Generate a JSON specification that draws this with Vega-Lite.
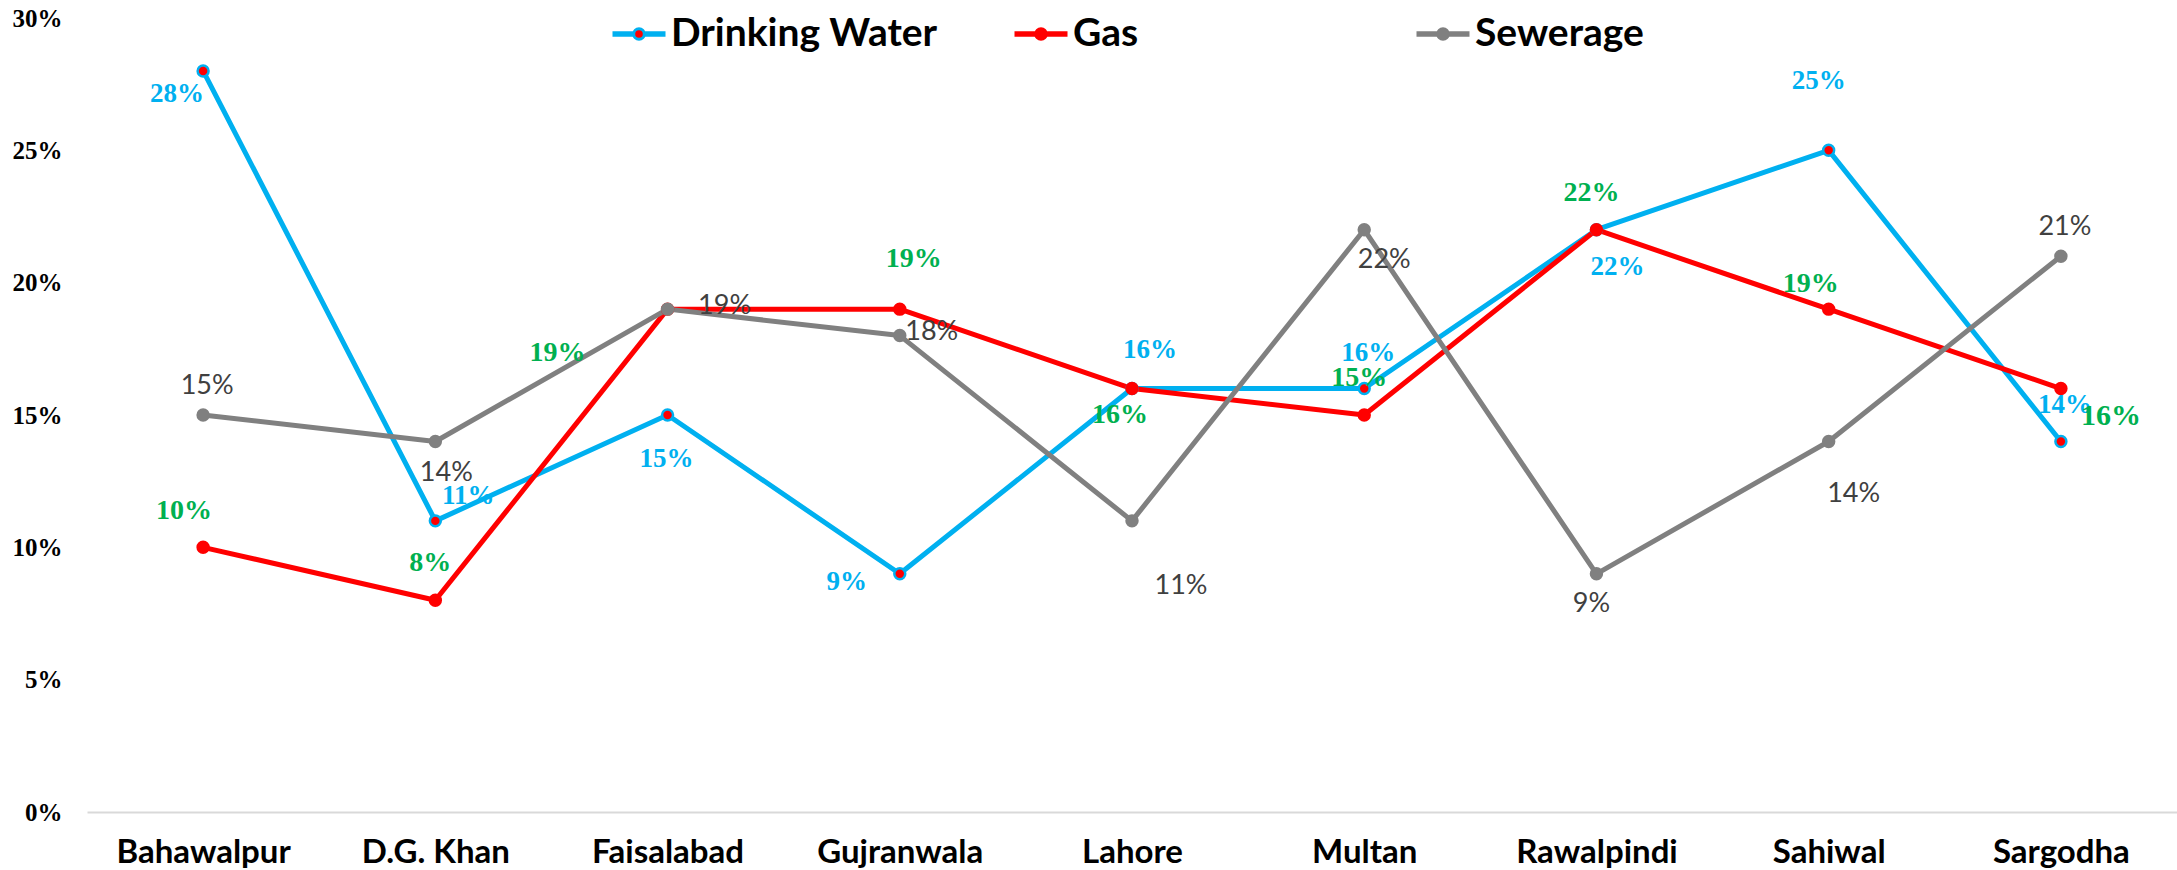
{
  "$schema": "https://vega.github.io/schema/vega-lite/v6.json",
  "width": 2090,
  "height": 794,
  "autosize": "none",
  "padding": {"left": 87, "top": 18, "right": 0, "bottom": 58},
  "background": "white",
  "config": {"view": {"stroke": null}},
  "data": {
    "values": [
      {"city": "Bahawalpur", "series": "Drinking Water", "value": 0.28},
      {"city": "D.G. Khan", "series": "Drinking Water", "value": 0.11},
      {"city": "Faisalabad", "series": "Drinking Water", "value": 0.15},
      {"city": "Gujranwala", "series": "Drinking Water", "value": 0.09},
      {"city": "Lahore", "series": "Drinking Water", "value": 0.16},
      {"city": "Multan", "series": "Drinking Water", "value": 0.16},
      {"city": "Rawalpindi", "series": "Drinking Water", "value": 0.22},
      {"city": "Sahiwal", "series": "Drinking Water", "value": 0.25},
      {"city": "Sargodha", "series": "Drinking Water", "value": 0.14},
      {"city": "Bahawalpur", "series": "Gas", "value": 0.10},
      {"city": "D.G. Khan", "series": "Gas", "value": 0.08},
      {"city": "Faisalabad", "series": "Gas", "value": 0.19},
      {"city": "Gujranwala", "series": "Gas", "value": 0.19},
      {"city": "Lahore", "series": "Gas", "value": 0.16},
      {"city": "Multan", "series": "Gas", "value": 0.15},
      {"city": "Rawalpindi", "series": "Gas", "value": 0.22},
      {"city": "Sahiwal", "series": "Gas", "value": 0.19},
      {"city": "Sargodha", "series": "Gas", "value": 0.16},
      {"city": "Bahawalpur", "series": "Sewerage", "value": 0.15},
      {"city": "D.G. Khan", "series": "Sewerage", "value": 0.14},
      {"city": "Faisalabad", "series": "Sewerage", "value": 0.19},
      {"city": "Gujranwala", "series": "Sewerage", "value": 0.18},
      {"city": "Lahore", "series": "Sewerage", "value": 0.11},
      {"city": "Multan", "series": "Sewerage", "value": 0.22},
      {"city": "Rawalpindi", "series": "Sewerage", "value": 0.09},
      {"city": "Sahiwal", "series": "Sewerage", "value": 0.14},
      {"city": "Sargodha", "series": "Sewerage", "value": 0.21}
    ]
  },
  "encoding": {
    "x": {
      "field": "city", "type": "nominal", "sort": null,
      "scale": {"type": "point", "padding": 0.5},
      "axis": {
        "title": null, "labelAngle": 0, "ticks": false, "tickSize": 0,
        "domain": true, "domainColor": "#D9D9D9", "domainWidth": 2,
        "grid": false, "labelFont": "Lato", "labelFontSize": 33, "labelFontWeight": "bold",
        "labelColor": "#000000", "labelBaseline": "middle", "labelPadding": 40, "labelLimit": 0
      }
    },
    "y": {
      "field": "value", "type": "quantitative",
      "scale": {"domain": [0, 0.3], "nice": false},
      "axis": {
        "title": null, "values": [0, 0.05, 0.1, 0.15, 0.2, 0.25, 0.3], "format": ".0%",
        "ticks": false, "tickSize": 0, "domain": false, "grid": false,
        "labelFont": "Liberation Serif", "labelFontSize": 25, "labelFontWeight": "bold",
        "labelColor": "#000000", "labelPadding": 25
      }
    }
  },
  "layer": [
    {
      "mark": {"type": "line", "strokeWidth": 5, "strokeJoin": "round", "strokeCap": "round"},
      "encoding": {
        "color": {
          "field": "series", "type": "nominal",
          "scale": {"domain": ["Drinking Water", "Gas", "Sewerage"], "range": ["#00B0F0", "#FF0000", "#808080"]},
          "legend": {
            "orient": "none", "legendX": 524, "legendY": -12,
            "direction": "horizontal", "columns": 3, "gridAlign": "all",
            "title": null, "padding": 0,
            "symbolType": "M-1,-0.05L-0.2,-0.05M-1,0.05L-0.2,0.05M0.2,-0.05L1,-0.05M0.2,0.05L1,0.05M0.2,0A0.2,0.2,0,1,1,-0.2,0A0.2,0.2,0,1,1,0.2,0Z",
            "symbolSize": 2809, "symbolStrokeWidth": 3,
            "labelFont": "Lato", "labelFontSize": 39, "labelFontWeight": "bold", "labelColor": "#000000",
            "labelOffset": 4, "columnPadding": 70, "labelLimit": 0,
            "encode": {
              "symbols": {
                "update": {
                  "fill": {"signal": "datum.value === 'Sewerage' ? '#808080' : '#FF0000'"},
                  "fillOpacity": {"value": 1},
                  "opacity": {"value": 1}
                }
              }
            }
          }
        }
      }
    },
    {
      "mark": {"type": "point", "shape": "circle", "size": 120, "strokeWidth": 2.5, "opacity": 1, "fillOpacity": 1},
      "encoding": {
        "fill": {
          "field": "series", "type": "nominal",
          "scale": {"domain": ["Drinking Water", "Gas", "Sewerage"], "range": ["#FF0000", "#FF0000", "#808080"]},
          "legend": null
        },
        "stroke": {
          "field": "series", "type": "nominal",
          "scale": {"domain": ["Drinking Water", "Gas", "Sewerage"], "range": ["#00B0F0", "#FF0000", "#808080"]},
          "legend": null
        }
      }
    },
    {"transform": [{"filter": "datum.series === 'Drinking Water' && datum.city === 'Bahawalpur'"}], "mark": {"type": "text", "dx": -26, "dy": 23, "font": "Liberation Serif", "fontSize": 27, "fontWeight": "bold", "color": "#00B0F0"}, "encoding": {"text": {"field": "value", "format": ".0%"}}},
    {"transform": [{"filter": "datum.series === 'Drinking Water' && datum.city === 'D.G. Khan'"}], "mark": {"type": "text", "dx": 33, "dy": -25, "font": "Liberation Serif", "fontSize": 27, "fontWeight": "bold", "color": "#00B0F0"}, "encoding": {"text": {"field": "value", "format": ".0%"}}},
    {"transform": [{"filter": "datum.series === 'Drinking Water' && datum.city === 'Faisalabad'"}], "mark": {"type": "text", "dx": -1, "dy": 44, "font": "Liberation Serif", "fontSize": 27, "fontWeight": "bold", "color": "#00B0F0"}, "encoding": {"text": {"field": "value", "format": ".0%"}}},
    {"transform": [{"filter": "datum.series === 'Drinking Water' && datum.city === 'Gujranwala'"}], "mark": {"type": "text", "dx": -53, "dy": 8, "font": "Liberation Serif", "fontSize": 27, "fontWeight": "bold", "color": "#00B0F0"}, "encoding": {"text": {"field": "value", "format": ".0%"}}},
    {"transform": [{"filter": "datum.series === 'Drinking Water' && datum.city === 'Lahore'"}], "mark": {"type": "text", "dx": 18, "dy": -39, "font": "Liberation Serif", "fontSize": 27, "fontWeight": "bold", "color": "#00B0F0"}, "encoding": {"text": {"field": "value", "format": ".0%"}}},
    {"transform": [{"filter": "datum.series === 'Drinking Water' && (datum.city === 'Multan' || datum.city === 'Sargodha')"}], "mark": {"type": "text", "dx": 4, "dy": -36, "font": "Liberation Serif", "fontSize": 27, "fontWeight": "bold", "color": "#00B0F0"}, "encoding": {"text": {"field": "value", "format": ".0%"}}},
    {"transform": [{"filter": "datum.series === 'Drinking Water' && datum.city === 'Rawalpindi'"}], "mark": {"type": "text", "dx": 21, "dy": 37, "font": "Liberation Serif", "fontSize": 27, "fontWeight": "bold", "color": "#00B0F0"}, "encoding": {"text": {"field": "value", "format": ".0%"}}},
    {"transform": [{"filter": "datum.series === 'Drinking Water' && datum.city === 'Sahiwal'"}], "mark": {"type": "text", "dx": -10, "dy": -69, "font": "Liberation Serif", "fontSize": 27, "fontWeight": "bold", "color": "#00B0F0"}, "encoding": {"text": {"field": "value", "format": ".0%"}}},

    {"transform": [{"filter": "datum.series === 'Gas' && datum.city === 'Bahawalpur'"}], "mark": {"type": "text", "dx": -19, "dy": -36, "font": "Liberation Serif", "fontSize": 28, "fontWeight": "bold", "color": "#00B050"}, "encoding": {"text": {"field": "value", "format": ".0%"}}},
    {"transform": [{"filter": "datum.series === 'Gas' && (datum.city === 'D.G. Khan' || datum.city === 'Multan' || datum.city === 'Rawalpindi')"}], "mark": {"type": "text", "dx": -5, "dy": -37, "font": "Liberation Serif", "fontSize": 28, "fontWeight": "bold", "color": "#00B050"}, "encoding": {"text": {"field": "value", "format": ".0%"}}},
    {"transform": [{"filter": "datum.series === 'Gas' && datum.city === 'Faisalabad'"}], "mark": {"type": "text", "dx": -110, "dy": 44, "font": "Liberation Serif", "fontSize": 28, "fontWeight": "bold", "color": "#00B050"}, "encoding": {"text": {"field": "value", "format": ".0%"}}},
    {"transform": [{"filter": "datum.series === 'Gas' && datum.city === 'Gujranwala'"}], "mark": {"type": "text", "dx": 14, "dy": -50, "font": "Liberation Serif", "fontSize": 28, "fontWeight": "bold", "color": "#00B050"}, "encoding": {"text": {"field": "value", "format": ".0%"}}},
    {"transform": [{"filter": "datum.series === 'Gas' && datum.city === 'Lahore'"}], "mark": {"type": "text", "dx": -12, "dy": 26, "font": "Liberation Serif", "fontSize": 28, "fontWeight": "bold", "color": "#00B050"}, "encoding": {"text": {"field": "value", "format": ".0%"}}},
    {"transform": [{"filter": "datum.series === 'Gas' && datum.city === 'Sahiwal'"}], "mark": {"type": "text", "dx": -18, "dy": -25, "font": "Liberation Serif", "fontSize": 28, "fontWeight": "bold", "color": "#00B050"}, "encoding": {"text": {"field": "value", "format": ".0%"}}},
    {"transform": [{"filter": "datum.series === 'Gas' && datum.city === 'Sargodha'"}], "mark": {"type": "text", "dx": 50, "dy": 27, "font": "Liberation Serif", "fontSize": 30, "fontWeight": "bold", "color": "#00B050"}, "encoding": {"text": {"field": "value", "format": ".0%"}}},

    {"transform": [{"filter": "datum.series === 'Sewerage' && (datum.city === 'Bahawalpur' || datum.city === 'Sargodha')"}], "mark": {"type": "text", "dx": 4, "dy": -29, "font": "Lato", "fontSize": 27, "color": "#404040"}, "encoding": {"text": {"field": "value", "format": ".0%"}}},
    {"transform": [{"filter": "datum.series === 'Sewerage' && datum.city === 'D.G. Khan'"}], "mark": {"type": "text", "dx": 11, "dy": 32, "font": "Lato", "fontSize": 27, "color": "#404040"}, "encoding": {"text": {"field": "value", "format": ".0%"}}},
    {"transform": [{"filter": "datum.series === 'Sewerage' && datum.city === 'Faisalabad'"}], "mark": {"type": "text", "dx": 57, "dy": -3, "font": "Lato", "fontSize": 27, "color": "#404040"}, "encoding": {"text": {"field": "value", "format": ".0%"}}},
    {"transform": [{"filter": "datum.series === 'Sewerage' && datum.city === 'Gujranwala'"}], "mark": {"type": "text", "dx": 32, "dy": -4, "font": "Lato", "fontSize": 27, "color": "#404040"}, "encoding": {"text": {"field": "value", "format": ".0%"}}},
    {"transform": [{"filter": "datum.series === 'Sewerage' && datum.city === 'Lahore'"}], "mark": {"type": "text", "dx": 49, "dy": 65, "font": "Lato", "fontSize": 27, "color": "#404040"}, "encoding": {"text": {"field": "value", "format": ".0%"}}},
    {"transform": [{"filter": "datum.series === 'Sewerage' && datum.city === 'Multan'"}], "mark": {"type": "text", "dx": 20, "dy": 30, "font": "Lato", "fontSize": 27, "color": "#404040"}, "encoding": {"text": {"field": "value", "format": ".0%"}}},
    {"transform": [{"filter": "datum.series === 'Sewerage' && datum.city === 'Rawalpindi'"}], "mark": {"type": "text", "dx": -5, "dy": 30, "font": "Lato", "fontSize": 27, "color": "#404040"}, "encoding": {"text": {"field": "value", "format": ".0%"}}},
    {"transform": [{"filter": "datum.series === 'Sewerage' && datum.city === 'Sahiwal'"}], "mark": {"type": "text", "dx": 25, "dy": 53, "font": "Lato", "fontSize": 27, "color": "#404040"}, "encoding": {"text": {"field": "value", "format": ".0%"}}}
  ]
}
